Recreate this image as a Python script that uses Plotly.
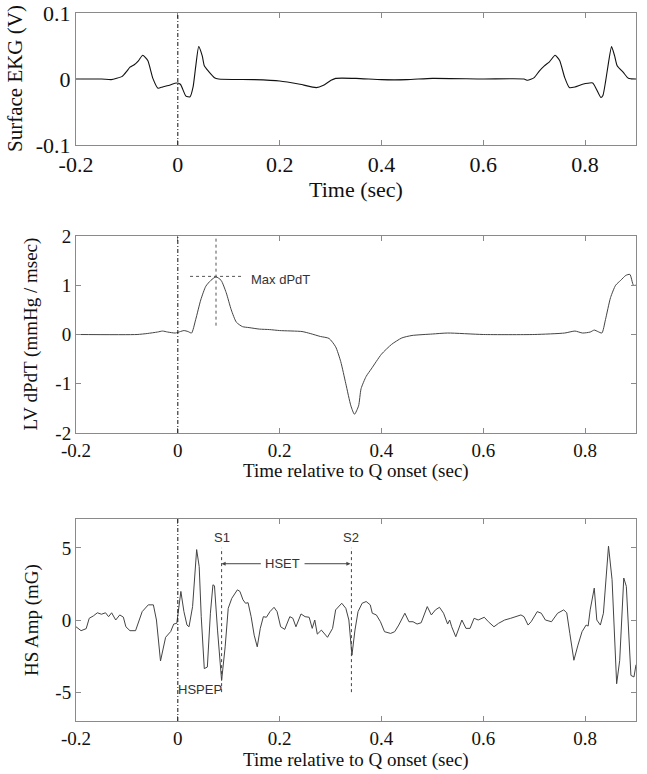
import plotly.graph_objects as go

# ---------------- data ----------------
ekg_t = [-0.2, -0.15, -0.131, -0.12, -0.109, -0.1, -0.094, -0.085, -0.077, -0.069, -0.059, -0.049,
         -0.039, -0.03, -0.015, -0.003, 0.005, 0.016, 0.024, 0.03, 0.035, 0.041, 0.048, 0.052,
         0.06, 0.072, 0.08, 0.15, 0.2, 0.24, 0.272, 0.285, 0.301, 0.31, 0.35, 0.4, 0.45, 0.5,
         0.6, 0.68, 0.687, 0.7, 0.71, 0.72, 0.73, 0.741, 0.75, 0.76, 0.769, 0.78, 0.795, 0.815,
         0.822, 0.831, 0.835, 0.84, 0.845, 0.852, 0.858, 0.863, 0.875, 0.885, 0.9]
ekg_v = [0.0, 0.0, -0.001, 0.001, 0.004, 0.012, 0.018, 0.022, 0.028, 0.036, 0.028, 0.001,
         -0.014, -0.012, -0.009, -0.006, -0.008, -0.026, -0.027, -0.012, 0.018, 0.049, 0.035, 0.02,
         0.012, 0.002, 0.0, -0.001, -0.003, -0.008, -0.013, -0.01, -0.002, 0.001, 0.001, -0.001,
         -0.001, 0.001, 0.0, 0.0, -0.002, 0.002, 0.012, 0.02, 0.026, 0.036, 0.028, 0.002, -0.013,
         -0.012, -0.008, -0.006, -0.015, -0.028, -0.025, -0.005, 0.02, 0.049, 0.035, 0.02, 0.01,
         0.001, 0.0]

dpdt_t = [-0.2, -0.08, -0.06, -0.04, -0.03, -0.02, -0.005, 0.005, 0.012, 0.02, 0.027, 0.035,
          0.045, 0.055, 0.065, 0.075, 0.085, 0.095, 0.105, 0.115, 0.127, 0.14, 0.16, 0.18, 0.2,
          0.244, 0.26, 0.28, 0.297, 0.31, 0.32, 0.33, 0.34, 0.347, 0.355, 0.36, 0.37, 0.38, 0.4,
          0.42, 0.44, 0.46, 0.5, 0.53, 0.6, 0.7, 0.76, 0.78, 0.795, 0.81, 0.818, 0.825, 0.833,
          0.84, 0.85, 0.86, 0.87, 0.88, 0.888, 0.895, 0.9]
dpdt_v = [0.0, 0.0, 0.02, 0.05, 0.07, 0.05, 0.03, 0.06, 0.08, 0.06, 0.03, 0.3,
          0.7, 0.98, 1.1, 1.17, 1.1, 0.85, 0.5, 0.25, 0.16, 0.14, 0.11, 0.1, 0.08,
          0.06, 0.02, -0.04, -0.08, -0.25, -0.55, -1.0, -1.45, -1.62, -1.45, -1.1, -0.85, -0.7,
          -0.4, -0.2, -0.07, -0.02, 0.01, 0.03, 0.0, 0.0, 0.03, 0.07, 0.03, 0.05, 0.09, 0.06, 0.03,
          0.3, 0.75, 1.0, 1.1, 1.2, 1.22, 1.0, 1.0]

hs_t = [-0.2, -0.19, -0.18, -0.174, -0.166, -0.158, -0.15, -0.142, -0.136, -0.13, -0.122, -0.114,
        -0.107, -0.102, -0.094, -0.083, -0.07, -0.058, -0.048, -0.042, -0.034, -0.024, -0.014,
        -0.008, -0.002, 0.002, 0.006, 0.012, 0.018, 0.022, 0.029, 0.037, 0.042, 0.046, 0.052,
        0.058, 0.064, 0.069, 0.072, 0.078, 0.086, 0.093, 0.099, 0.106, 0.117, 0.122, 0.128, 0.133,
        0.138, 0.144, 0.15, 0.156, 0.162, 0.168, 0.174, 0.181, 0.189, 0.195, 0.202, 0.21, 0.22,
        0.226, 0.232, 0.242, 0.25, 0.258, 0.264, 0.269, 0.274, 0.282, 0.294, 0.304, 0.31, 0.322,
        0.33, 0.336, 0.342, 0.348, 0.354, 0.362, 0.37, 0.378, 0.382, 0.39, 0.398, 0.406, 0.418,
        0.426, 0.434, 0.446, 0.454, 0.462, 0.47, 0.478, 0.49, 0.498, 0.506, 0.514, 0.522, 0.53,
        0.534, 0.538, 0.546, 0.558, 0.566, 0.574, 0.582, 0.59, 0.602, 0.61, 0.621, 0.63, 0.642,
        0.654, 0.666, 0.674, 0.68, 0.688, 0.694, 0.706, 0.714, 0.722, 0.734, 0.746, 0.758, 0.764,
        0.77, 0.778, 0.786, 0.794, 0.802, 0.806, 0.81, 0.818, 0.823, 0.83, 0.836, 0.846, 0.853,
        0.857, 0.862, 0.868, 0.876, 0.881, 0.89, 0.896, 0.9]
hs_v = [-0.47, -0.74, -0.6, 0.12, 0.28, 0.5, 0.4, 0.5, 0.23, 0.5, 0.0, 0.35,
        0.2, -0.47, -0.74, -0.74, 0.58, 1.05, 1.05, 0.0, -2.84, -1.2, -0.8,
        -0.28, -0.23, 0.8, 1.98, 0.58, -0.35, -0.47, 0.93, 4.88, 3.7, 0.23, -3.37,
        -3.26, 0.47, 2.44, 2.37, -0.7, -4.19, -1.86, 0.81, 1.5, 2.09, 1.98, 1.4, 1.16,
        1.2, 0.23, -1.05, -1.86, -0.58, 0.23, 0.19, 0.58, 0.88, 0.58, -0.47, -0.65, 0.23,
        0.12, -0.47, 0.42, 0.23, 0.19, -0.58, 0.0, -0.98, -0.7, -1.2, -0.58, 0.7, 1.16,
        0.81, 0.0, -2.44, -0.7, 0.58, 1.16, 1.28, 1.05, 0.47, 0.35, -0.12, -0.81, -0.93,
        -0.81, -0.35, 0.47, -0.12, -0.12, -0.28, -0.19, 0.93, 0.35, 0.7, 0.88, 0.47, -0.28,
        0.0, -0.47, -1.16, 0.0, -0.58, -0.58, 0.12, 0.0, 0.19, -0.12, -0.47, -0.23, 0.0,
        0.12, 0.23, 0.35, 0.23, -0.35, -0.12, 0.58, 0.47, 0.0, -0.12, 0.47, 0.7, 0.5,
        -0.93, -2.79, -1.74, -0.81, -0.35, -0.42, 0.7, 2.21, 0.0, -0.35, 0.47, 5.12, 2.79,
        -0.7, -4.42, -2.79, 2.91, 2.33, -3.84, -3.95, -3.1]

x_tickvals = [-0.2, 0, 0.2, 0.4, 0.6, 0.8]
x_ticktext = ["-0.2", "0", "0.2", "0.4", "0.6", "0.8"]
ekg_tickvals = [-0.1, 0, 0.1]
ekg_ticktext = ["-0.1", "0", "0.1"]
dpdt_tickvals = [-2, -1, 0, 1, 2]
dpdt_ticktext = ["-2", "-1", "0", "1", "2"]
hs_tickvals = [-5, 0, 5]
hs_ticktext = ["-5", "0", "5"]

max_dpdt_t, max_dpdt_v = 0.075, 1.18
s1_t, s2_t = 0.086, 0.341
hset_y = 3.9

# ---------------- figure ----------------
SERIF = "Liberation Serif, Times New Roman, serif"
SANS = "Liberation Sans, Arial, sans-serif"
FRAME = "#8a8a8a"
W, H = 647, 774
ML, MR, MT, MB = 76, 11, 13, 53
PW = W - ML - MR
PH = H - MT - MB


def ypaper(px):
    return 1 - (px - MT) / PH


def xpaper(px):
    return (px - ML) / PW


fig = go.Figure()
fig.add_trace(go.Scatter(x=ekg_t, y=ekg_v, mode="lines", xaxis="x", yaxis="y",
                         line=dict(color="#111111", width=1.1, shape="spline", smoothing=0.5),
                         showlegend=False, hoverinfo="skip"))
fig.add_trace(go.Scatter(x=dpdt_t, y=dpdt_v, mode="lines", xaxis="x2", yaxis="y2",
                         line=dict(color="#444444", width=1, shape="spline", smoothing=0.6),
                         showlegend=False, hoverinfo="skip"))
fig.add_trace(go.Scatter(x=hs_t, y=hs_v, mode="lines", xaxis="x3", yaxis="y3",
                         line=dict(color="#444444", width=1),
                         showlegend=False, hoverinfo="skip"))


def xax(anchor, fs):
    return dict(domain=[0, 1], anchor=anchor, range=[-0.2, 0.9], automargin=False,
                tickvals=x_tickvals, ticktext=x_ticktext,
                ticks="inside", ticklen=5, tickcolor=FRAME, showline=True, linecolor=FRAME,
                linewidth=1, mirror="ticks", showgrid=False, zeroline=False,
                tickfont=dict(family=SERIF, size=fs, color="#111"))


def yax(rng, tv, tt, dom, anchor, fs):
    return dict(domain=dom, anchor=anchor, range=rng, tickvals=tv, ticktext=tt, automargin=False,
                ticks="inside", ticklen=5, tickcolor=FRAME, showline=True, linecolor=FRAME,
                linewidth=1, mirror="ticks", showgrid=False, zeroline=False,
                tickfont=dict(family=SERIF, size=fs, color="#111"))


top_dom = [ypaper(145), ypaper(13)]
mid_dom = [ypaper(433), ypaper(236)]
bot_dom = [ypaper(721), ypaper(519)]

fig.update_layout(
    width=W, height=H, margin=dict(l=ML, r=MR, t=MT, b=MB, autoexpand=False),
    paper_bgcolor="white", plot_bgcolor="white",
    xaxis=xax("y", 22),
    xaxis2=xax("y2", 19),
    xaxis3=xax("y3", 19),
    yaxis=yax([-0.1, 0.1], ekg_tickvals, ekg_ticktext, top_dom, "x", 22),
    yaxis2=yax([-2, 2], dpdt_tickvals, dpdt_ticktext, mid_dom, "x2", 19),
    yaxis3=yax([-7, 7], hs_tickvals, hs_ticktext, bot_dom, "x3", 19),
)

shapes = []
# Q onset dash-dot markers
for xr, yr in [("x", "y"), ("x2", "y2"), ("x3", "y3")]:
    shapes.append(dict(type="line", xref=xr, yref=yr + " domain", x0=0, x1=0, y0=0, y1=1,
                       line=dict(color="#111", width=1, dash="4px,2px,1px,2px")))
# Max dPdT crosshair
shapes.append(dict(type="line", xref="x2", yref="y2", x0=max_dpdt_t, x1=max_dpdt_t,
                   y0=0.18, y1=2, line=dict(color="#555", width=1, dash="dot")))
shapes.append(dict(type="line", xref="x2", yref="y2", x0=0.024, x1=0.125,
                   y0=max_dpdt_v, y1=max_dpdt_v, line=dict(color="#555", width=1, dash="dot")))
# S1 / S2 markers
for st in (s1_t, s2_t):
    shapes.append(dict(type="line", xref="x3", yref="y3", x0=st, x1=st, y0=-5, y1=5,
                       line=dict(color="#444", width=1, dash="dot")))
fig.update_layout(shapes=shapes)

ann_font = dict(family=SANS, size=13, color="#333")
title_top = dict(family=SERIF, size=21, color="#111")
title_xtop = dict(family=SERIF, size=22, color="#111")
title_f = dict(family=SERIF, size=19, color="#111")
annotations = [
    # y-axis titles
    dict(x=xpaper(15), y=sum(top_dom) / 2, xref="paper", yref="paper", text="Surface EKG (V)",
         textangle=-90, showarrow=False, xanchor="center", yanchor="middle", font=title_top),
    dict(x=xpaper(31), y=sum(mid_dom) / 2, xref="paper", yref="paper",
         text="LV dPdT (mmHg / msec)", textangle=-90, showarrow=False, xanchor="center",
         yanchor="middle", font=title_f),
    dict(x=xpaper(32), y=sum(bot_dom) / 2, xref="paper", yref="paper", text="HS Amp (mG)",
         textangle=-90, showarrow=False, xanchor="center", yanchor="middle", font=title_f),
    # x-axis titles
    dict(x=0.5, y=ypaper(189), xref="paper", yref="paper", text="Time (sec)",
         showarrow=False, xanchor="center", yanchor="middle", font=title_xtop),
    dict(x=0.5, y=ypaper(471), xref="paper", yref="paper", text="Time relative to Q onset (sec)",
         showarrow=False, xanchor="center", yanchor="middle", font=title_f),
    dict(x=0.5, y=ypaper(760), xref="paper", yref="paper", text="Time relative to Q onset (sec)",
         showarrow=False, xanchor="center", yanchor="middle", font=title_f),
    # marks
    dict(x=0.14, y=1.12, xref="x2", yref="y2", text="Max dPdT", showarrow=False,
         xanchor="left", yanchor="middle", font=ann_font),
    dict(x=s1_t, y=5.75, xref="x3", yref="y3", text="S1", showarrow=False,
         xanchor="center", yanchor="middle", font=ann_font),
    dict(x=s2_t, y=5.75, xref="x3", yref="y3", text="S2", showarrow=False,
         xanchor="center", yanchor="middle", font=ann_font),
    dict(x=(s1_t + s2_t) / 2 - 0.008, y=hset_y, xref="x3", yref="y3", text="HSET",
         showarrow=False, xanchor="center", yanchor="middle", font=ann_font),
    dict(x=s1_t, y=hset_y, ax=0.166, ay=hset_y, xref="x3", yref="y3", axref="x3", ayref="y3",
         text="", showarrow=True, arrowhead=2, arrowsize=0.8, arrowwidth=1, arrowcolor="#444"),
    dict(x=s2_t - 0.002, y=hset_y, ax=0.246, ay=hset_y, xref="x3", yref="y3", axref="x3",
         ayref="y3", text="", showarrow=True, arrowhead=2, arrowsize=0.8, arrowwidth=1,
         arrowcolor="#444"),
    dict(x=0.043, y=-4.85, xref="x3", yref="y3", text="HSPEP", showarrow=False,
         xanchor="center", yanchor="middle", font=ann_font),
]
fig.update_layout(annotations=annotations)

# the page's default 8px body margin would shift the figure; remove it
fig.write_html("out.html", config={"displayModeBar": False, "staticPlot": True},
               post_script="document.body.style.margin='0';")
